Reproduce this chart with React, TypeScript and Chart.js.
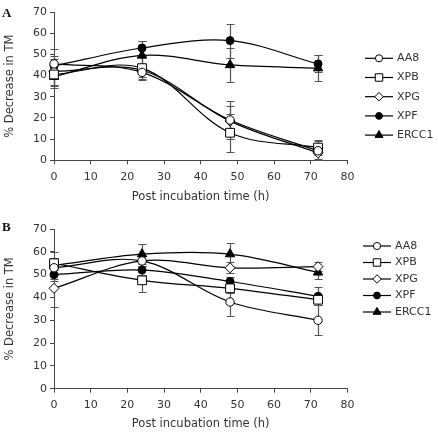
import React, { useEffect, useRef } from "react";
import { Chart, registerables } from "chart.js";

Chart.register(...registerables);

// ---------- data ----------
const hours = [0, 24, 48, 72];
const seriesNames = ["AA8", "XPB", "XPG", "XPF", "ERCC1"];
const xTickStep = 10;
const yTickStep = 10;

// Panel A
const aa8A = [45.5, 41.5, 19, 4.5];
const xpbA = [40.5, 43.5, 13, 6];
const xpgA = [42, 42.5, 18.5, 3.5];
const xpfA = [44.5, 53, 56.5, 45.5];
const ercc1A = [39.5, 49.5, 45, 43.5];
const aa8AErr = [7, 3, 9, 4.5];
const xpbAErr = [5, 5.5, 9, 3.5];
const xpgAErr = [7, 3, 7, 3];
const xpfAErr = [3.5, 3.5, 8, 4];
const ercc1AErr = [5.5, 7, 8, 6];

// Panel B
const aa8B = [53, 56, 38, 30];
const xpbB = [55, 47.5, 44, 39];
const xpgB = [44, 56, 53, 53.5];
const xpfB = [50, 52, 47, 40.5];
const ercc1B = [54, 59, 59, 51];
const aa8BErr = [3, 2, 6, 6.5];
const xpbBErr = [2.5, 5, 2, 2.5];
const xpgBErr = [8, 2, 2.5, 2];
const xpfBErr = [3, 2, 2, 4];
const ercc1BErr = [6, 4.5, 5, 3];

// ---------- styles ----------
const markerStyles = [
  { pointStyle: "circle", radius: 4.2, fill: "#ffffff" },
  { pointStyle: "rect", radius: 6.2, fill: "#ffffff" },
  { pointStyle: "rectRot", radius: 5.0, fill: "#ffffff" },
  { pointStyle: "circle", radius: 4.0, fill: "#000000" },
  { pointStyle: "triangle", radius: 5.4, fill: "#000000" },
];

const FONT = "'DejaVu Sans', sans-serif";
const TEXT_COLOR = "#333";
const AXIS_COLOR = "#444";

function drawMarker(ctx: CanvasRenderingContext2D, style: string, x: number, y: number, r: number, fill: string) {
  ctx.beginPath();
  if (style === "circle") {
    ctx.arc(x, y, r, 0, Math.PI * 2);
  } else if (style === "rect") {
    const s = Math.SQRT1_2 * r;
    ctx.rect(x - s, y - s, 2 * s, 2 * s);
  } else if (style === "rectRot") {
    ctx.moveTo(x - r, y);
    ctx.lineTo(x, y - r);
    ctx.lineTo(x + r, y);
    ctx.lineTo(x, y + r);
    ctx.closePath();
  } else if (style === "triangle") {
    const a = (2 * Math.PI) / 3;
    ctx.moveTo(x, y - r);
    ctx.lineTo(x + Math.sin(a) * r, y - Math.cos(a) * r);
    ctx.lineTo(x + Math.sin(2 * a) * r, y - Math.cos(2 * a) * r);
    ctx.closePath();
  }
  ctx.fillStyle = fill;
  ctx.fill();
  ctx.strokeStyle = "#000";
  ctx.lineWidth = 1;
  ctx.stroke();
}

const errorBarPlugin = {
  id: "errorBars",
  beforeDatasetsDraw(chart: any, _args: any, opts: any) {
    const { ctx } = chart;
    const xs = chart.scales.x;
    const ys = chart.scales.y;
    ctx.save();
    ctx.strokeStyle = opts.color || "#555";
    ctx.lineWidth = opts.width || 1.2;
    const cap = opts.cap || 4;
    chart.data.datasets.forEach((ds: any) => {
      const errs = ds.errors;
      if (!errs) return;
      ds.data.forEach((p: any, i: number) => {
        const x = Math.round(xs.getPixelForValue(p.x)) + 0.5;
        const yt = Math.round(ys.getPixelForValue(p.y + errs[i])) + 0.5;
        const yb = Math.round(ys.getPixelForValue(p.y - errs[i])) + 0.5;
        ctx.beginPath();
        ctx.moveTo(x, yt);
        ctx.lineTo(x, yb);
        ctx.moveTo(x - cap, yt);
        ctx.lineTo(x + cap, yt);
        ctx.moveTo(x - cap, yb);
        ctx.lineTo(x + cap, yb);
        ctx.stroke();
      });
    });
    ctx.restore();
  },
};

const sideLegendPlugin = {
  id: "sideLegend",
  afterDraw(chart: any, _args: any, opts: any) {
    const { ctx } = chart;
    ctx.save();
    chart.data.datasets.forEach((ds: any, i: number) => {
      const y = opts.y + i * opts.spacing;
      ctx.beginPath();
      ctx.strokeStyle = "#000";
      ctx.lineWidth = 1.2;
      ctx.moveTo(opts.x, y);
      ctx.lineTo(opts.x + opts.lineLen, y);
      ctx.stroke();
      const m = markerStyles[i];
      drawMarker(ctx, m.pointStyle, opts.x + opts.lineLen / 2, y, m.radius * 0.85, m.fill);
      ctx.fillStyle = TEXT_COLOR;
      ctx.font = `11px ${FONT}`;
      ctx.textBaseline = "middle";
      ctx.textAlign = "left";
      ctx.fillText(ds.label, opts.x + opts.lineLen + 4, y);
    });
    ctx.restore();
  },
};

function buildDatasets(values: number[][], errors: number[][]) {
  return seriesNames.map((name, i) => ({
    label: name,
    data: hours.map((h, j) => ({ x: h, y: values[i][j] })),
    errors: errors[i],
    borderColor: "#000",
    borderWidth: 1.2,
    tension: 0.35,
    fill: false,
    clip: false,
    pointStyle: markerStyles[i].pointStyle,
    pointRadius: markerStyles[i].radius,
    pointBackgroundColor: markerStyles[i].fill,
    pointBorderColor: "#000",
    pointBorderWidth: 1,
  }));
}

function makeConfig(p: {
  values: number[][];
  errors: number[][];
  top: number;
  xAxisHeight: number;
  titleBottom: number;
  legendY: number;
  legendSpacing: number;
  legendX: number;
}) {
  return {
    type: "line" as const,
    data: { datasets: buildDatasets(p.values, p.errors) },
    options: {
      animation: false,
      responsive: false,
      layout: { padding: { left: 0, right: 90.6, top: p.top, bottom: 0 } },
      plugins: {
        legend: { display: false },
        tooltip: { enabled: false },
        errorBars: { color: "#555", width: 1.2, cap: 4 },
        sideLegend: { x: p.legendX, y: p.legendY, spacing: p.legendSpacing, lineLen: 28 },
      },
      scales: {
        x: {
          type: "linear",
          min: 0,
          max: 80,
          ticks: { stepSize: xTickStep, padding: 6, color: TEXT_COLOR, font: { family: FONT, size: 11 } },
          grid: { drawOnChartArea: false, drawTicks: true, tickLength: 4, color: AXIS_COLOR },
          border: { color: AXIS_COLOR, width: 1 },
          title: {
            display: true,
            text: "Post incubation time (h)",
            color: TEXT_COLOR,
            font: { family: FONT, size: 11.5 },
            padding: { top: 0, bottom: p.titleBottom },
          },
          afterFit: (s: any) => {
            s.height = p.xAxisHeight;
          },
        },
        y: {
          min: 0,
          max: 70,
          ticks: { stepSize: yTickStep, padding: 3, color: TEXT_COLOR, font: { family: FONT, size: 11 } },
          grid: { drawOnChartArea: false, drawTicks: true, tickLength: 4, color: AXIS_COLOR },
          border: { color: AXIS_COLOR, width: 1 },
          title: {
            display: true,
            text: "% Decrease in TM",
            color: TEXT_COLOR,
            font: { family: FONT, size: 11.5 },
            padding: { top: 3, bottom: 0 },
          },
          afterFit: (s: any) => {
            s.width = 54;
          },
        },
      },
    },
    plugins: [errorBarPlugin, sideLegendPlugin],
  };
}

function ChartCanvas({ config, width, height }: { config: any; width: number; height: number }) {
  const ref = useRef<HTMLCanvasElement | null>(null);
  useEffect(() => {
    if (!ref.current) return;
    const chart = new Chart(ref.current, config);
    return () => chart.destroy();
  }, [config]);
  return <canvas ref={ref} width={width} height={height} style={{ display: "block", width, height }} />;
}

const configA = makeConfig({
  values: [aa8A, xpbA, xpgA, xpfA, ercc1A],
  errors: [aa8AErr, xpbAErr, xpgAErr, xpfAErr, ercc1AErr],
  top: 12,
  xAxisHeight: 54.7,
  titleBottom: 11,
  legendX: 365,
  legendY: 58.3,
  legendSpacing: 19.2,
});

const configB = makeConfig({
  values: [aa8B, xpbB, xpgB, xpfB, ercc1B],
  errors: [aa8BErr, xpbBErr, xpgBErr, xpfBErr, ercc1BErr],
  top: 14,
  xAxisHeight: 46.3,
  titleBottom: 4,
  legendX: 363,
  legendY: 246 - 215,
  legendSpacing: 16.5,
});

export default function App() {
  const letter: React.CSSProperties = {
    position: "absolute",
    left: 2,
    fontFamily: "'Liberation Serif', serif",
    fontWeight: "bold",
    fontSize: 13,
    lineHeight: "13px",
    color: "#111",
  };
  return (
    <div style={{ position: "fixed", left: 0, top: 0, width: 438, height: 435, background: "#fff" }}>
      <div style={{ position: "absolute", left: 0, top: 0 }}>
        <ChartCanvas config={configA} width={438} height={215} />
      </div>
      <div style={{ position: "absolute", left: 0, top: 215 }}>
        <ChartCanvas config={configB} width={438} height={220} />
      </div>
      <div style={{ ...letter, top: 6 }}>A</div>
      <div style={{ ...letter, top: 220 }}>B</div>
    </div>
  );
}
